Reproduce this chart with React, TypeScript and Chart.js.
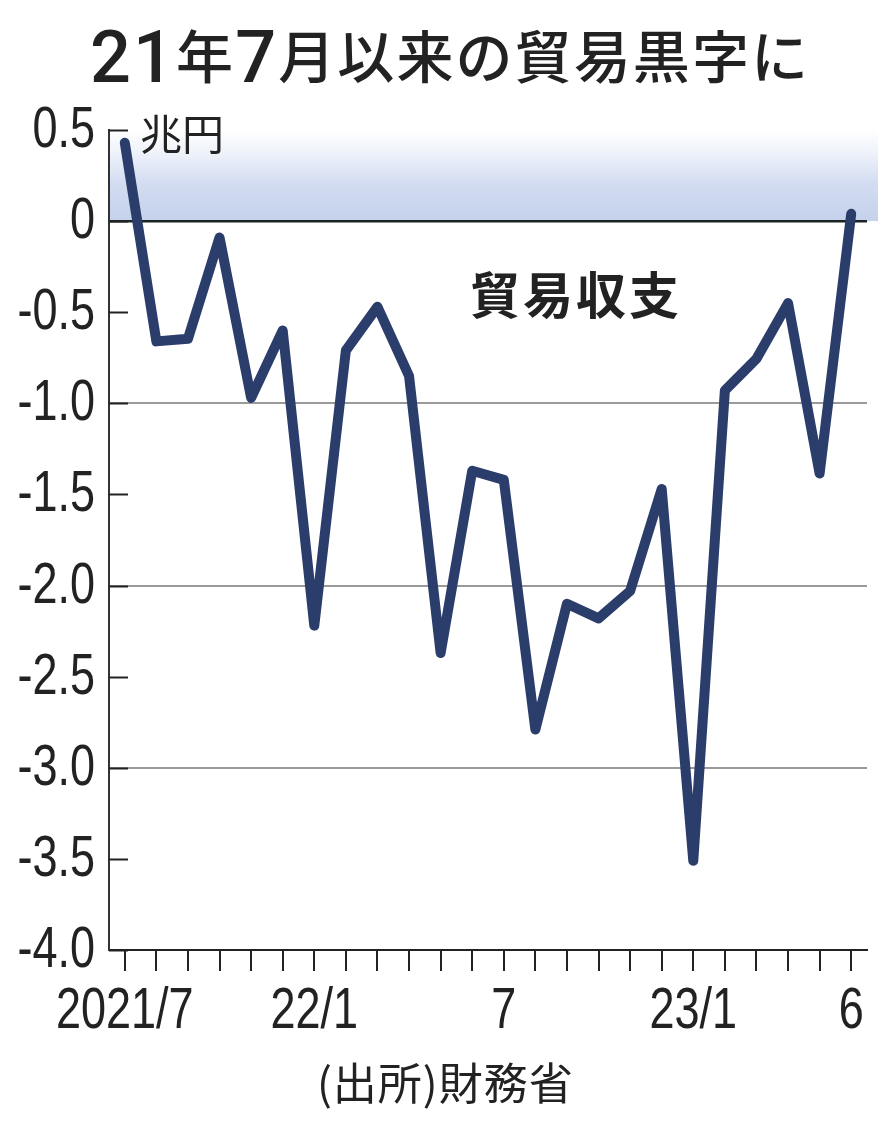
import React, { useEffect, useRef } from 'react';
import { Chart, registerables } from 'chart.js';

Chart.register(...registerables);

// ---- data ----
const months = [
  '2021/7', '2021/8', '2021/9', '2021/10', '2021/11', '2021/12',
  '2022/1', '2022/2', '2022/3', '2022/4', '2022/5', '2022/6',
  '2022/7', '2022/8', '2022/9', '2022/10', '2022/11', '2022/12',
  '2023/1', '2023/2', '2023/3', '2023/4', '2023/5', '2023/6',
];
const tickLabels = [
  '2021/7', '', '', '', '', '',
  '22/1', '', '', '', '', '',
  '7', '', '', '', '', '',
  '23/1', '', '', '', '', '6',
];
// 貿易収支 (兆円)
const balance = [
  0.43, -0.66, -0.645, -0.09, -0.97, -0.6,
  -2.22, -0.71, -0.47, -0.85, -2.37, -1.37,
  -1.42, -2.79, -2.1, -2.18, -2.03, -1.47,
  -3.51, -0.93, -0.755, -0.45, -1.385, 0.04,
];
const yMin = -4;
const yMax = 0.5;
const yStep = 0.5;
const gridValues = [-1, -2, -3];

const titleParts = [
  { text: '21', digit: true },
  { text: '年', digit: false },
  { text: '7', digit: true },
  { text: '月以来の貿易黒字に', digit: false },
];
const unitLabel = '兆円';
const seriesLabel = '貿易収支';
const sourceLabel = '(出所)財務省';

const NUM = "'Liberation Sans', Arial, sans-serif";
const TITLE_NUM = "Roboto, 'Liberation Sans', Arial, sans-serif";
const CJK = "'Noto Sans CJK JP', 'Noto Sans CJK SC', sans-serif";
const INK = '#222222';
const LINE = '#2b3d6b';
const NARROW_SCALE = 0.79;
const NUM_SIZE = 57;

const fmtY = (v: number) => (Math.abs(v) < 1e-9 ? '0' : v.toFixed(1));

function narrowText(ctx: CanvasRenderingContext2D, text: string, x: number, y: number, align: 'left' | 'right' | 'center') {
  ctx.save();
  ctx.translate(x, y);
  ctx.scale(NARROW_SCALE, 1);
  ctx.textAlign = align;
  ctx.fillText(text, 0, 0);
  ctx.restore();
}

const decorPlugin = {
  id: 'decor',
  beforeDraw(chart: any) {
    const { ctx, chartArea, scales } = chart;
    const y = scales.y;
    const top = y.getPixelForValue(yMax);
    const zero = y.getPixelForValue(0);
    ctx.save();
    const g = ctx.createLinearGradient(0, top, 0, zero);
    g.addColorStop(0, 'rgba(255,255,255,1)');
    g.addColorStop(0.25, '#eef2fa');
    g.addColorStop(0.6, '#d2dcf1');
    g.addColorStop(1, '#c5d2ec');
    ctx.fillStyle = g;
    ctx.fillRect(chartArea.left, top, chartArea.right + 11 - chartArea.left, zero - top);
    ctx.restore();
  },
  beforeDatasetsDraw(chart: any) {
    const { ctx, chartArea, scales } = chart;
    const y = scales.y;
    ctx.save();
    ctx.strokeStyle = INK;
    ctx.lineWidth = 2;
    for (let v = yMax; v >= yMin - 1e-9; v -= yStep) {
      const py = Math.round(y.getPixelForValue(v)) + 0.5;
      ctx.beginPath();
      ctx.moveTo(chartArea.left, py);
      ctx.lineTo(chartArea.left + 19, py);
      ctx.stroke();
    }
    ctx.restore();
  },
  afterDraw(chart: any) {
    const { ctx, chartArea, scales } = chart;
    ctx.save();
    ctx.fillStyle = INK;
    ctx.textBaseline = 'alphabetic';
    ctx.textAlign = 'left';

    // numeric tick labels (condensed)
    ctx.font = `${NUM_SIZE}px ${NUM}`;
    scales.y.ticks.forEach((t: any) => {
      const py = scales.y.getPixelForValue(t.value);
      narrowText(ctx, fmtY(t.value), chartArea.left - 14, py + 17, 'right');
    });
    scales.x.ticks.forEach((t: any, i: number) => {
      const lbl = tickLabels[i];
      if (!lbl) return;
      const px = scales.x.getPixelForTick(i);
      narrowText(ctx, lbl, px, 1028, 'center');
    });

    // title
    const digitFont = `500 72px ${TITLE_NUM}`;
    const cjkFont = `500 57px ${CJK}`;
    let natural = 0;
    let nChars = 0;
    const widths: number[] = [];
    titleParts.forEach((p) => {
      ctx.font = p.digit ? digitFont : cjkFont;
      const w = ctx.measureText(p.text).width;
      widths.push(w);
      natural += w;
      nChars += Array.from(p.text).length;
    });
    const targetW = 718;
    const extra = Math.max(0, (targetW - natural) / (nChars - 1));
    let x = 90;
    titleParts.forEach((p, i) => {
      ctx.font = p.digit ? digitFont : cjkFont;
      (ctx as any).letterSpacing = `${extra}px`;
      ctx.fillText(p.text, x, p.digit ? 82 : 78);
      x += widths[i] + extra * Array.from(p.text).length;
    });
    (ctx as any).letterSpacing = '0px';

    // unit
    ctx.font = `42px ${CJK}`;
    ctx.fillText(unitLabel, chartArea.left + 31, 150);

    // series label
    ctx.font = `bold 50px ${CJK}`;
    (ctx as any).letterSpacing = '3px';
    ctx.fillText(seriesLabel, 470, 314);
    (ctx as any).letterSpacing = '0px';

    // source
    ctx.font = `44px ${CJK}`;
    (ctx as any).letterSpacing = '1px';
    ctx.fillText(sourceLabel, 317, 1100);
    (ctx as any).letterSpacing = '0px';
    ctx.restore();
  },
};

export default function App() {
  const ref = useRef<HTMLCanvasElement | null>(null);

  useEffect(() => {
    if (!ref.current) return;
    const chart = new Chart(ref.current, {
      type: 'line',
      data: {
        labels: months,
        datasets: [
          {
            label: seriesLabel,
            data: balance,
            borderColor: LINE,
            borderWidth: 10,
            borderCapStyle: 'round',
            borderJoinStyle: 'round',
            pointRadius: 0,
            pointHoverRadius: 0,
            tension: 0,
            fill: false,
            clip: false as any,
          },
        ],
      },
      options: {
        responsive: false,
        maintainAspectRatio: false,
        animation: false,
        devicePixelRatio: 1,
        layout: { padding: { top: 130, right: 29, left: 0, bottom: 0 } },
        plugins: {
          legend: { display: false },
          tooltip: { enabled: false },
          title: { display: false },
        },
        scales: {
          x: {
            type: 'category',
            offset: true,
            afterFit: (s: any) => {
              s.height = 182;
            },
            grid: {
              display: true,
              offset: false,
              drawOnChartArea: false,
              drawTicks: true,
              tickLength: 21,
              color: INK,
              lineWidth: 2,
            },
            border: { display: true, color: INK, width: 2 },
            ticks: {
              autoSkip: false,
              maxRotation: 0,
              minRotation: 0,
              padding: 4,
              color: 'rgba(0,0,0,0)',
              font: { family: NUM, size: 20 },
              callback: (_v: any, i: number) => tickLabels[i],
            },
          },
          y: {
            min: yMin,
            max: yMax,
            afterFit: (s: any) => {
              s.width = 109;
            },
            grid: {
              display: true,
              drawTicks: false,
              color: (c: any) => {
                const v = c.tick ? c.tick.value : NaN;
                if (Math.abs(v) < 1e-9) return '#1b2424';
                if (gridValues.some((g) => Math.abs(g - v) < 1e-9)) return '#9a9a9a';
                return 'rgba(0,0,0,0)';
              },
              lineWidth: (c: any) => {
                const v = c.tick ? c.tick.value : NaN;
                return Math.abs(v) < 1e-9 ? 2.5 : 2;
              },
            },
            border: { display: true, color: '#333333', width: 2 },
            ticks: {
              stepSize: yStep,
              padding: 14,
              color: 'rgba(0,0,0,0)',
              font: { family: NUM, size: 20 },
              callback: (v: any) => fmtY(Number(v)),
            },
          },
        },
      },
      plugins: [decorPlugin],
    });
    return () => chart.destroy();
  }, []);

  return (
    <div style={{ position: 'absolute', left: 0, top: 0, width: 896, height: 1132, background: '#fff' }}>
      <canvas ref={ref} width={896} height={1132} style={{ display: 'block' }} />
    </div>
  );
}
